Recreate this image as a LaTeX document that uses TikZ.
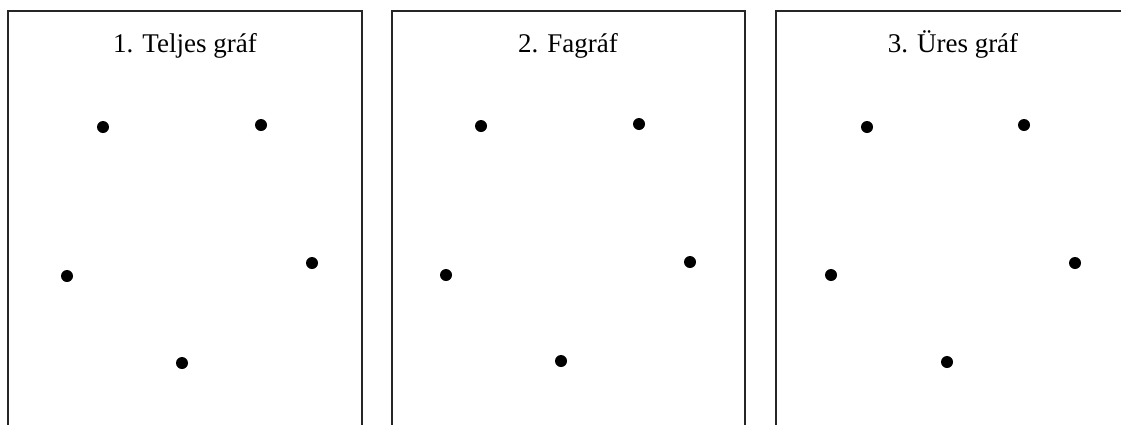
\documentclass[tikz,border=0pt]{standalone}
\usepackage{fontspec}
\setmainfont{Liberation Serif}
\begin{document}
\begin{tikzpicture}[x=1pt,y=-1pt,
  panel/.style={draw=black!85,line width=1.5pt},
  vtx/.style={circle,fill=black,inner sep=0pt,minimum size=12pt},
  ttl/.style={font=\fontsize{27}{32}\selectfont,inner sep=0pt,anchor=base}]
\useasboundingbox (0,0) rectangle (1121,424);
\clip (0,0) rectangle (1121,424);
\fill[white] (0,0) rectangle (1121,424);
% panels
\draw[panel] (8,440) -- (8,11) -- (362,11) -- (362,440);
\draw[panel] (392,440) -- (392,11) -- (745,11) -- (745,440);
\draw[panel] (776,440) -- (776,11) -- (1130,11) -- (1130,440);
% titles
\node[ttl] (t1) at (185,52) {1. Teljes gráf};
\node[ttl] (t2) at (568,52) {2. Fagráf};
\node[ttl] (t3) at (953,52) {3. Üres gráf};
% panel 1
\node[vtx] (a1) at (103,127) {};
\node[vtx] (a2) at (261,125) {};
\node[vtx] (a3) at (67,276) {};
\node[vtx] (a4) at (312,263) {};
\node[vtx] (a5) at (182,363) {};
% panel 2
\node[vtx] (b1) at (481,126) {};
\node[vtx] (b2) at (639,124) {};
\node[vtx] (b3) at (446,275) {};
\node[vtx] (b4) at (690,262) {};
\node[vtx] (b5) at (561,361) {};
% panel 3
\node[vtx] (c1) at (867,127) {};
\node[vtx] (c2) at (1024,125) {};
\node[vtx] (c3) at (831,275) {};
\node[vtx] (c4) at (1075,263) {};
\node[vtx] (c5) at (947,362) {};
\end{tikzpicture}
\end{document}
